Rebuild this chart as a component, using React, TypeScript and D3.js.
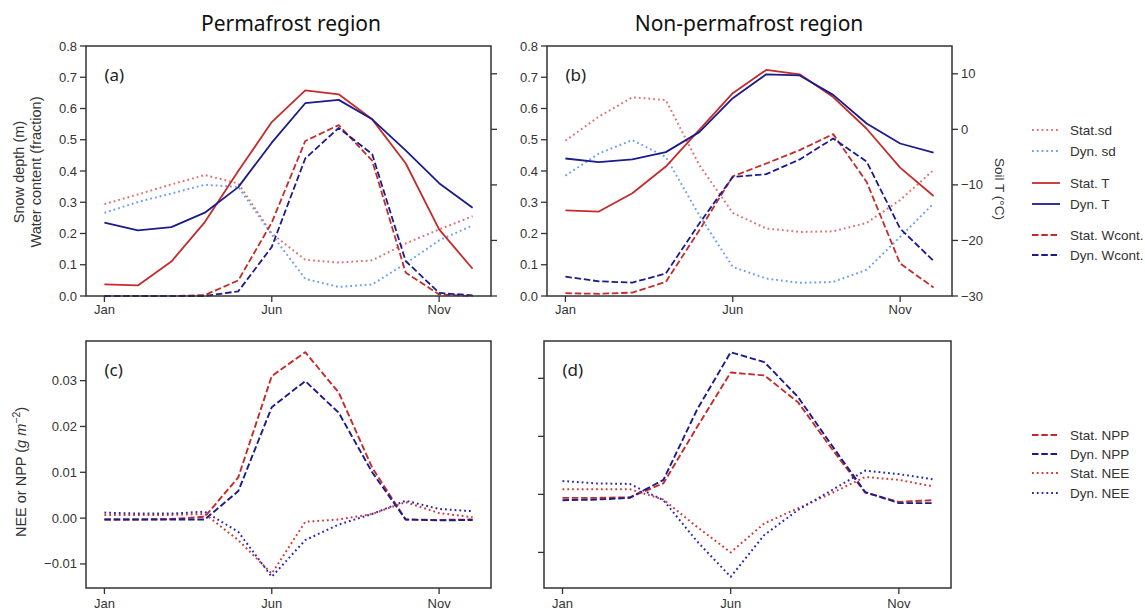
import React from 'react'
import * as d3 from 'd3'

const months = [1, 2, 3, 4, 5, 6, 7, 8, 9, 10, 11, 12]
const monthTicks = [1, 6, 11]
const monthLabels = ['Jan', 'Jun', 'Nov']
const depthTicks = [0, 0.1, 0.2, 0.3, 0.4, 0.5, 0.6, 0.7, 0.8]
const soilTicks = [-30, -20, -10, 0, 10]
const fluxTicksC = [-0.01, 0, 0.01, 0.02, 0.03]
const fluxTicksD = [-0.01, 0, 0.01, 0.02]

// (a) permafrost region
const pfStatSd = [0.294, 0.325, 0.357, 0.387, 0.36, 0.2, 0.116, 0.107, 0.114, 0.168, 0.213, 0.255]
const pfDynSd = [0.266, 0.301, 0.328, 0.356, 0.349, 0.197, 0.055, 0.029, 0.037, 0.104, 0.178, 0.226]
const pfStatT = [-27.9, -28.1, -23.8, -16.7, -7.5, 1.3, 7.0, 6.3, 1.8, -6.1, -18.0, -25.1]
const pfDynT = [-16.8, -18.2, -17.6, -15.0, -10.4, -2.4, 4.7, 5.3, 1.8, -3.8, -9.7, -14.1]
const pfStatW = [0, 0, 0, 0.003, 0.05, 0.235, 0.496, 0.547, 0.433, 0.075, 0.005, 0]
const pfDynW = [0, 0, 0, 0, 0.015, 0.157, 0.44, 0.538, 0.454, 0.112, 0.01, 0.002]

// (b) non-permafrost region
const npStatSd = [0.497, 0.574, 0.636, 0.627, 0.419, 0.266, 0.216, 0.205, 0.207, 0.234, 0.307, 0.403]
const npDynSd = [0.385, 0.456, 0.499, 0.445, 0.258, 0.093, 0.056, 0.042, 0.045, 0.084, 0.189, 0.296]
const npStatT = [-14.6, -14.8, -11.5, -6.7, -0.1, 6.5, 10.7, 9.9, 5.8, 0.1, -6.9, -12.0]
const npDynT = [-5.25, -5.9, -5.4, -4.1, -0.5, 5.6, 9.9, 9.7, 6.2, 1.05, -2.55, -4.2]
const npStatW = [0.009, 0.007, 0.011, 0.045, 0.21, 0.383, 0.424, 0.467, 0.518, 0.365, 0.104, 0.027]
const npDynW = [0.062, 0.047, 0.043, 0.072, 0.232, 0.381, 0.39, 0.437, 0.504, 0.43, 0.216, 0.112]

// (c) permafrost fluxes
const pfStatNpp = [-0.0003, -0.0003, -0.0002, 0.0003, 0.0089, 0.031, 0.0362, 0.0274, 0.011, -0.0003, -0.0004, -0.0003]
const pfDynNpp = [-0.0003, -0.0003, -0.0003, -0.0003, 0.0059, 0.0242, 0.0299, 0.023, 0.01, -0.0003, -0.0005, -0.0004]
const pfStatNee = [0.0007, 0.0007, 0.0007, 0.0009, -0.0048, -0.0121, -0.0008, -0.0003, 0.0009, 0.0035, 0.0011, 0.0002]
const pfDynNee = [0.0012, 0.001, 0.001, 0.0014, -0.003, -0.0128, -0.0048, -0.0014, 0.0009, 0.0038, 0.002, 0.0015]

// (d) non-permafrost fluxes
const npStatNpp = [-0.0006, -0.0006, -0.0005, 0.0019, 0.0116, 0.021, 0.0205, 0.0159, 0.0079, 0.0003, -0.0013, -0.001]
const npDynNpp = [-0.001, -0.0009, -0.0006, 0.0025, 0.0146, 0.0245, 0.0228, 0.0168, 0.0085, 0.0004, -0.0015, -0.0015]
const npStatNee = [0.0009, 0.0009, 0.0009, -0.0009, -0.0056, -0.01, -0.005, -0.0024, 0.0002, 0.003, 0.0025, 0.0014]
const npDynNee = [0.0023, 0.0019, 0.0018, -0.001, -0.0081, -0.0142, -0.007, -0.0027, 0.0007, 0.0041, 0.0035, 0.0026]

const RED = '#c42c2c'
const NAVY = '#1b1b8c'
const LRED = '#e07272'
const LBLUE = '#6c9ff2'
const NRED = '#d23a3a'
const NBLUE = '#2828b5'
const INK = '#333'
const TICKFONT = 'Liberation Sans, Arial, sans-serif'
const SOLID = undefined
const DASHED = '6.5 2.8'
const DOTTED = '1.8 3'

type Series = { values: number[], color: string, dash?: string, width: number, axis: 'left' | 'right' }
type Box = { left: number, right: number, top: number, bottom: number }

function padded(arrs: number[][]): [number, number] {
  const [lo, hi] = d3.extent(arrs.flat()) as [number, number]
  const pad = (hi - lo) * 0.05
  return [lo - pad, hi + pad]
}

function Panel(props: {
  box: Box, label: string, leftDomain: [number, number], leftTicks: number[], leftFormat?: (v: number) => string,
  showLeftLabels: boolean, right?: { ticks: number[], labels: boolean }, series: Series[], xLabelY: number
}) {
  const { box, label, leftDomain, leftTicks, leftFormat, showLeftLabels, right, series, xLabelY } = props
  const x = d3.scaleLinear().domain([0.45, 12.55]).range([box.left, box.right])
  const yL = d3.scaleLinear().domain(leftDomain).range([box.bottom, box.top])
  const yR = d3.scaleLinear().domain([-30, 15]).range([box.bottom, box.top])
  const fmt = leftFormat || d3.format('.1f')
  return (
    <g>
      {series.map((s, i) => {
        const y = s.axis === 'left' ? yL : yR
        const line = d3.line<number>().x((_, j) => x(months[j])).y(v => y(v))
        return <path key={i} d={line(s.values) || ''} fill="none" stroke={s.color} strokeWidth={s.width}
          strokeDasharray={s.dash} strokeLinejoin="round" />
      })}
      <rect x={box.left} y={box.top} width={box.right - box.left} height={box.bottom - box.top}
        fill="none" stroke={INK} strokeWidth={1.5} />
      {leftTicks.map(t => (
        <g key={t}>
          <line x1={box.left - 6} x2={box.left} y1={yL(t)} y2={yL(t)} stroke={INK} strokeWidth={1.3} />
          {showLeftLabels && <text x={box.left - 9} y={yL(t)} dy="0.35em" textAnchor="end" fontSize={13}
            fill={INK} fontFamily={TICKFONT}>{fmt(t).replace('-', '\u2212')}</text>}
        </g>
      ))}
      {right && right.ticks.map(t => (
        <g key={'r' + t}>
          <line x1={box.right} x2={box.right + 6} y1={yR(t)} y2={yR(t)} stroke={INK} strokeWidth={1.3} />
          {right.labels && <text x={box.right + 9} y={yR(t)} dy="0.35em" fontSize={13} fill={INK}
            fontFamily={TICKFONT}>{String(t).replace('-', '\u2212')}</text>}
        </g>
      ))}
      {monthTicks.map((m, i) => (
        <g key={m}>
          <line x1={x(m)} x2={x(m)} y1={box.bottom} y2={box.bottom + 6} stroke={INK} strokeWidth={1.3} />
          <text x={x(m)} y={xLabelY} textAnchor="middle" fontSize={13} fill={INK} fontFamily={TICKFONT}>{monthLabels[i]}</text>
        </g>
      ))}
      <text x={x(1)} y={box.top + 35} fontSize={17} fill="#222" fontFamily="Noto Sans, sans-serif">{label}</text>
    </g>
  )
}

function Legend(props: { x: number, rows: { y: number, text: string, color: string, dash?: string, width: number }[] }) {
  return (
    <g>
      {props.rows.map(r => (
        <g key={r.text}>
          <line x1={props.x} x2={props.x + 28} y1={r.y} y2={r.y} stroke={r.color} strokeWidth={r.width} strokeDasharray={r.dash} />
          <text x={props.x + 38} y={r.y} dy="0.35em" fontSize={13.5} fill={INK} fontFamily={TICKFONT}>{r.text}</text>
        </g>
      ))}
    </g>
  )
}

export default function App() {
  const boxA = { left: 86, right: 491, top: 46, bottom: 296 }
  const boxB = { left: 547, right: 952, top: 46, bottom: 296 }
  const boxC = { left: 86, right: 491, top: 341, bottom: 588 }
  const boxD = { left: 544, right: 951, top: 341, bottom: 588 }

  const topSeries = (sd1: number[], sd2: number[], t1: number[], t2: number[], w1: number[], w2: number[]): Series[] => [
    { values: sd1, color: LRED, dash: DOTTED, width: 2, axis: 'left' },
    { values: sd2, color: LBLUE, dash: DOTTED, width: 2, axis: 'left' },
    { values: t1, color: RED, dash: SOLID, width: 1.8, axis: 'right' },
    { values: t2, color: NAVY, dash: SOLID, width: 1.8, axis: 'right' },
    { values: w1, color: RED, dash: DASHED, width: 1.8, axis: 'left' },
    { values: w2, color: NAVY, dash: DASHED, width: 1.8, axis: 'left' },
  ]
  const fluxSeries = (n1: number[], n2: number[], e1: number[], e2: number[]): Series[] => [
    { values: n1, color: RED, dash: DASHED, width: 1.9, axis: 'left' },
    { values: n2, color: NAVY, dash: DASHED, width: 1.9, axis: 'left' },
    { values: e1, color: NRED, dash: DOTTED, width: 2, axis: 'left' },
    { values: e2, color: NBLUE, dash: DOTTED, width: 2, axis: 'left' },
  ]
  const fluxFmt = (v: number) => d3.format('.2f')(Math.abs(v) < 1e-9 ? 0 : v)

  return (
    <svg width={1145} height={613} style={{ position: 'absolute', left: 0, top: 0, background: '#fff' }}>
      <text x={291} y={31} textAnchor="middle" fontSize={21} fill="#111" fontFamily="Noto Sans, sans-serif">Permafrost region</text>
      <text x={749} y={31} textAnchor="middle" fontSize={21} fill="#111" fontFamily="Noto Sans, sans-serif">Non-permafrost region</text>

      <Panel box={boxA} label="(a)" leftDomain={[0, 0.8]} leftTicks={depthTicks} showLeftLabels={true}
        right={{ ticks: soilTicks, labels: false }} series={topSeries(pfStatSd, pfDynSd, pfStatT, pfDynT, pfStatW, pfDynW)} xLabelY={314} />
      <Panel box={boxB} label="(b)" leftDomain={[0, 0.8]} leftTicks={depthTicks} showLeftLabels={true}
        right={{ ticks: soilTicks, labels: true }} series={topSeries(npStatSd, npDynSd, npStatT, npDynT, npStatW, npDynW)} xLabelY={314} />
      <Panel box={boxC} label="(c)" leftDomain={padded([pfStatNpp, pfDynNpp, pfStatNee, pfDynNee])} leftTicks={fluxTicksC}
        leftFormat={fluxFmt} showLeftLabels={true} series={fluxSeries(pfStatNpp, pfDynNpp, pfStatNee, pfDynNee)} xLabelY={608} />
      <Panel box={boxD} label="(d)" leftDomain={padded([npStatNpp, npDynNpp, npStatNee, npDynNee])} leftTicks={fluxTicksD}
        showLeftLabels={false} series={fluxSeries(npStatNpp, npDynNpp, npStatNee, npDynNee)} xLabelY={608} />

      <text transform="translate(24,172) rotate(-90)" textAnchor="middle" fontSize={14.5} fill={INK} fontFamily={TICKFONT}>Snow depth (m)</text>
      <text transform="translate(41,172) rotate(-90)" textAnchor="middle" fontSize={14.5} fill={INK} fontFamily={TICKFONT}>Water content (fraction)</text>
      <text transform="translate(995,189) rotate(90)" textAnchor="middle" fontSize={13.5} fill={INK} fontFamily={TICKFONT}>Soil T (°C)</text>
      <text transform="translate(26,472) rotate(-90)" textAnchor="middle" fontSize={14.5} fill={INK} fontFamily={TICKFONT}>
        NEE or NPP (<tspan fontStyle="italic">g m</tspan><tspan fontSize={10.5} dy={-6}>{'\u22122'}</tspan><tspan dy={6}>)</tspan>
      </text>

      <Legend x={1032} rows={[
        { y: 130, text: 'Stat.sd', color: LRED, dash: DOTTED, width: 2 },
        { y: 151, text: 'Dyn. sd', color: LBLUE, dash: DOTTED, width: 2 },
        { y: 183, text: 'Stat. T', color: RED, width: 1.8 },
        { y: 204, text: 'Dyn. T', color: NAVY, width: 1.8 },
        { y: 235, text: 'Stat. Wcont.', color: RED, dash: DASHED, width: 1.8 },
        { y: 255, text: 'Dyn. Wcont.', color: NAVY, dash: DASHED, width: 1.8 },
      ]} />
      <Legend x={1032} rows={[
        { y: 435, text: 'Stat. NPP', color: RED, dash: DASHED, width: 1.9 },
        { y: 454, text: 'Dyn. NPP', color: NAVY, dash: DASHED, width: 1.9 },
        { y: 473, text: 'Stat. NEE', color: NRED, dash: DOTTED, width: 2 },
        { y: 493, text: 'Dyn. NEE', color: NBLUE, dash: DOTTED, width: 2 },
      ]} />
    </svg>
  )
}
